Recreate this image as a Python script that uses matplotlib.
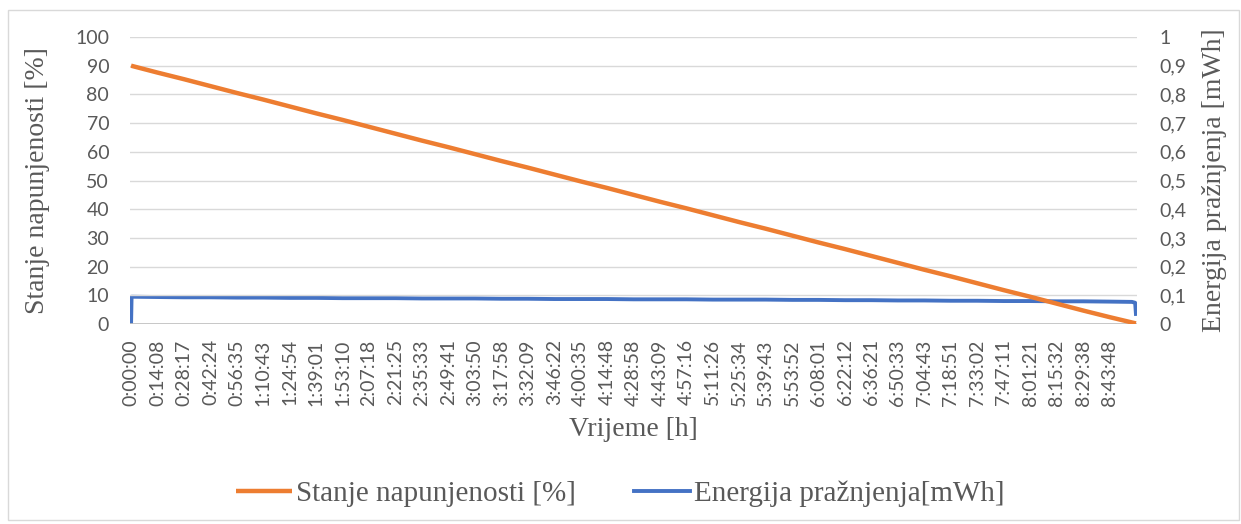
import numpy as np
import matplotlib
matplotlib.use('Agg')
import matplotlib.pyplot as plt
from matplotlib.patches import Rectangle

# vremenske oznake na x osi (svaka oznaka = jedan korak kategorije)
time_labels = ['0:00:00', '0:14:08', '0:28:17', '0:42:24', '0:56:35', '1:10:43',
               '1:24:54', '1:39:01', '1:53:10', '2:07:18', '2:21:25', '2:35:33',
               '2:49:41', '3:03:50', '3:17:58', '3:32:09', '3:46:22', '4:00:35',
               '4:14:48', '4:28:58', '4:43:09', '4:57:16', '5:11:26', '5:25:34',
               '5:39:43', '5:53:52', '6:08:01', '6:22:12', '6:36:21', '6:50:33',
               '7:04:43', '7:18:51', '7:33:02', '7:47:11', '8:01:21', '8:15:32',
               '8:29:38', '8:43:48']

# stanje napunjenosti [%] ocitano na svakoj oznaci + kraj mjerenja
soc_pos = list(range(39))
soc_vals = [90.0, 87.6, 85.3, 82.9, 80.5, 78.2, 75.8, 73.4, 71.1, 68.7,
            66.3, 63.9, 61.6, 59.2, 56.8, 54.5, 52.1, 49.7, 47.4, 45.0,
            42.6, 40.3, 37.9, 35.5, 33.2, 30.8, 28.4, 26.1, 23.7, 21.3,
            18.9, 16.6, 14.2, 11.8, 9.5, 7.1, 4.7, 2.4, 0.2]

# energija praznjenja [mWh]
en_pos = [0, 0.02, 1, 2, 3, 4, 5, 6, 7, 8, 9, 10, 11, 12, 13, 14, 15, 16, 17, 18,
          19, 20, 21, 22, 23, 24, 25, 26, 27, 28, 29, 30, 31, 32, 33, 34, 35,
          36, 37, 37.85, 37.97, 38.0]
en_vals = [0.0, 0.095, 0.094, 0.093, 0.093, 0.092, 0.092, 0.091, 0.091, 0.090,
           0.090, 0.090, 0.089, 0.089, 0.089, 0.088, 0.088, 0.087, 0.087, 0.087,
           0.086, 0.086, 0.086, 0.085, 0.085, 0.085, 0.084, 0.084, 0.083, 0.083,
           0.082, 0.082, 0.081, 0.081, 0.080, 0.080, 0.079, 0.079, 0.078, 0.077,
           0.074, 0.035]

orange = '#ED7D31'
blue = '#4472C4'
txt = '#595959'
serif = ['Liberation Serif', 'DejaVu Serif']

fig = plt.figure(figsize=(12.41, 5.24), dpi=100)
ax = fig.add_axes([130 / 1241, 1 - 324 / 524, 1007 / 1241, 287 / 524])
ax2 = ax.twinx()

l1, = ax.plot(soc_pos, soc_vals, color=orange, lw=3.2, solid_capstyle='butt',
              label='Stanje napunjenosti [%]', zorder=3)
l2, = ax2.plot(en_pos, en_vals, color=blue, lw=2.8,
               label='Energija pražnjenja[mWh]', zorder=3)
ax.set_zorder(ax2.get_zorder() + 1)
ax.patch.set_visible(False)

ax.set_xlim(-0.04, 38.04)
ax.set_ylim(0, 100)
ax2.set_ylim(0, 1)
ax.set_yticks(np.arange(0, 101, 10))
ax2.set_yticks(np.arange(0, 1.01, 0.1))
ax2.set_yticklabels(['0', '0,1', '0,2', '0,3', '0,4', '0,5', '0,6', '0,7',
                     '0,8', '0,9', '1'])
ax.set_xticks(range(len(time_labels)))
ax.set_xticklabels(time_labels, rotation=90)

ax.grid(axis='y', color='#d9d9d9', lw=1)
ax.set_axisbelow(True)
for a in (ax, ax2):
    for s in a.spines.values():
        s.set_visible(False)
    a.tick_params(length=0, labelsize=14, labelcolor=txt, labelfontfamily='Lato')
ax.tick_params(axis='y', pad=15)
ax.tick_params(axis='x', pad=11)
ax2.tick_params(axis='y', pad=16)
ax.axhline(0, color='#bfbfbf', lw=1.2, zorder=1)

ax.set_ylabel('Stanje napunjenosti [%]', fontsize=20, color=txt,
              family=serif, labelpad=18)
ax2.set_ylabel('Energija pražnjenja [mWh]', fontsize=20, color=txt,
               family=serif, rotation=90, labelpad=11)
ax.set_xlabel('Vrijeme [h]', fontsize=20, color=txt, family=serif, labelpad=8)

fig.legend(handles=[l1, l2], loc='center', bbox_to_anchor=(0.5, 1 - 494 / 524),
           ncol=2, frameon=False, prop={'family': serif, 'size': 21},
           labelcolor=txt, handlelength=1.9, columnspacing=2.0, handletextpad=0.15)

fig.patches.append(Rectangle((8 / 1241, 4 / 524), 1231 / 1241, 510 / 524,
                             transform=fig.transFigure, fill=False,
                             edgecolor='#d9d9d9', lw=1))

fig.savefig('out.png', dpi=100)
